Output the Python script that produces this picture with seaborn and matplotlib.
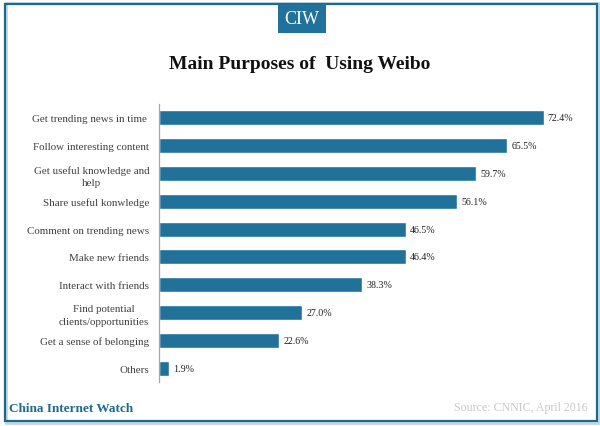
import matplotlib
matplotlib.use("Agg")
import matplotlib.pyplot as plt
from matplotlib.patches import Rectangle
import seaborn as sns
import pandas as pd

purposes = ["Get trending news in time ", "Follow interesting content",
            "Get useful knowledge and\nhelp", "Share useful konwledge",
            "Comment on trending news", "Make new friends", "Interact with friends",
            "Find potential\nclients/opportunities", "Get a sense of belonging", "Others"]
shares = [72.4, 65.5, 59.7, 56.1, 46.5, 46.4, 38.3, 27.0, 22.6, 1.9]

BLUE = "#20729b"
W, H = 600, 427
sns.set_theme(style="white")
plt.rcParams["font.family"] = ["Liberation Serif", "DejaVu Serif"]

fig = plt.figure(figsize=(W / 100, H / 100), dpi=100, facecolor="white")
ax = fig.add_axes([159 / W, 1 - 383 / H, 425 / W, 278 / H])
df = pd.DataFrame({"purpose": purposes, "share": shares})
sns.barplot(data=df, y="purpose", x="share", color=BLUE, saturation=1, width=0.54, ax=ax)
ax.set_xlim(0, 80)
ax.set_xlabel(""); ax.set_ylabel("")
ax.xaxis.set_visible(False)
for s in ["top", "right", "bottom"]:
    ax.spines[s].set_visible(False)
ax.spines["left"].set_color("#a6a6a6")
ax.spines["left"].set_linewidth(0.9)
ax.tick_params(axis="y", length=0, pad=7)
for t in ax.get_yticklabels():
    t.set_fontsize(7.9); t.set_color("#404040"); t.set_multialignment("center")
    t.set_linespacing(1.5)
for v, p in zip(shares, range(len(shares))):
    ax.annotate(f"{v:.1f}%", (v, p), xytext=(3, 0), textcoords="offset points",
                va="center", ha="left", fontsize=7.2, color="#222222")

# frame, shadow and header tab
fig.add_artist(Rectangle((6 / W, 1 - 424 / H), 593 / W, 420 / H, transform=fig.transFigure,
                         fill=False, ec="#c4d6e0", lw=2))
fig.add_artist(Rectangle((5 / W, 1 - 422 / H), 592 / W, 417 / H, transform=fig.transFigure,
                         fill=False, ec="#1a6a92", lw=1.6))
fig.add_artist(Rectangle((278 / W, 1 - 34 / H), 48 / W, 29 / H, transform=fig.transFigure,
                         fc=BLUE, ec="none"))
fig.text(302 / W, 1 - 19 / H, "CIW", color="white", fontsize=13, ha="center", va="center")
fig.text(300 / W, 1 - 65 / H, "Main Purposes of  Using Weibo", color="#111111", fontsize=14,
         fontweight="bold", ha="center", va="center")
fig.text(9 / W, 1 - 409 / H, "China Internet Watch", color="#1d6a8e", fontsize=9.5,
         fontweight="bold", ha="left", va="center")
fig.text(588 / W, 1 - 408 / H, "Source: CNNIC, April 2016", color="#c8c8c8", fontsize=8.6,
         ha="right", va="center")
fig.savefig("out.png", dpi=100)
